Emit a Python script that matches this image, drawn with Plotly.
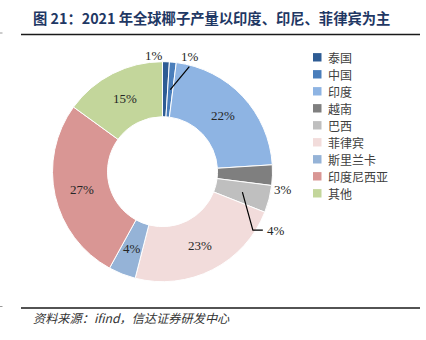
import math
import plotly.graph_objects as go

# 2021 coconut production share by country (%)
countries = ["泰国", "中国", "印度", "越南", "巴西", "菲律宾", "斯里兰卡", "印度尼西亚", "其他"]
shares = [1, 1, 22, 3, 4, 23, 4, 27, 15]
colors = ["#2E5C94", "#4A7EBB", "#8EB4E3", "#7F7F7F", "#BFBFBF",
          "#F2DCDB", "#95B3D7", "#D99694", "#C3D69B"]

title_text = "图 21：2021 年全球椰子产量以印度、印尼、菲律宾为主"
source_text = "资料来源：ifind，信达证券研发中心"

W, H = 426, 340
CX, CY, R = 162.5, 171.7, 110.0
HOLE = 0.5


def px(x):
    return x / W


def py(y):
    return 1 - y / H


# label placement for the small slices (others sit inside the ring)
outside = {
    "泰国": dict(dx=-12, dy=0, anchor="center", leader=None),
    "中国": dict(dx=17, dy=0, anchor="center", leader=[(189.3, 66.7)]),
    "越南": dict(dx=5, dy=14, anchor="center", leader=None),
    "巴西": dict(dx=-10, dy=29.5, anchor="left", leader="elbow"),
}

fig = go.Figure()
fig.add_trace(go.Pie(
    labels=countries,
    values=shares,
    sort=False,
    direction="clockwise",
    rotation=0,
    hole=HOLE,
    marker=dict(colors=colors, line=dict(color="white", width=1)),
    textinfo="none",
    hoverinfo="label+percent",
    showlegend=False,
    domain=dict(x=[px(CX - R), px(CX + R)], y=[py(CY + R), py(CY - R)]),
))

annotations = []
shapes = []
total = sum(shares)
cum = 0.0
label_font = dict(family="Liberation Serif", size=13, color="#262626")
for name, v in zip(countries, shares):
    mid = (cum + v / 2) / total * 2 * math.pi
    cum += v
    s, c = math.sin(mid), math.cos(mid)
    text = f"{round(v / total * 100)}%"
    rmid = (R + HOLE * R) / 2
    if name not in outside:
        x, y = CX + rmid * s, CY - rmid * c
        annotations.append(dict(x=px(x), y=py(y), xref="paper", yref="paper",
                                text=text, showarrow=False, font=label_font,
                                xanchor="center", yanchor="middle"))
        continue
    cfg = outside[name]
    ox, oy = CX + 116 * s, CY - 116 * c
    lx, ly = ox + cfg["dx"], oy + cfg["dy"]
    annotations.append(dict(x=px(lx), y=py(ly), xref="paper", yref="paper",
                            text=text, showarrow=False, font=label_font,
                            xanchor=cfg["anchor"], yanchor="middle"))
    start = (CX + rmid * s, CY - rmid * c)
    if cfg["leader"] == "elbow":
        pts = [start, (lx - 12, ly), (lx - 2, ly)]
    elif cfg["leader"]:
        pts = [start] + cfg["leader"]
    else:
        pts = []
    if pts:
        path = "M " + " L ".join(f"{px(a):.4f},{py(b):.4f}" for a, b in pts)
        shapes.append(dict(type="path", path=path, xref="paper", yref="paper",
                           line=dict(color="#000000", width=1.2)))

# legend drawn as swatches + text
for i, (name, col) in enumerate(zip(countries, colors)):
    yc = 57.3 + 17 * i
    shapes.append(dict(type="rect", xref="paper", yref="paper",
                       x0=px(313), x1=px(321.5), y0=py(yc + 4.2), y1=py(yc - 4.2),
                       fillcolor=col, line=dict(width=0)))
    annotations.append(dict(x=px(326), y=py(yc), xref="paper", yref="paper",
                            text=name, showarrow=False, xanchor="left", yanchor="middle",
                            font=dict(family="Noto Sans CJK SC", size=12, color="#404040")))

# title, rules and source
annotations.append(dict(x=px(31), y=py(17.5), xref="paper", yref="paper",
                        text=f"<b>{title_text}</b>", showarrow=False,
                        xanchor="left", yanchor="middle",
                        font=dict(family="Noto Sans CJK SC", size=14.3, color="#1F3864")))
annotations.append(dict(x=px(31), y=py(318), xref="paper", yref="paper",
                        text=f"<i>{source_text}</i>", showarrow=False,
                        xanchor="left", yanchor="middle",
                        font=dict(family="Noto Sans CJK SC", size=12.2, color="#333333")))
for yl in (34.5, 308):
    shapes.append(dict(type="line", xref="paper", yref="paper",
                       x0=px(21), x1=px(420), y0=py(yl), y1=py(yl),
                       line=dict(color="#1a1a1a", width=1.3)))
    shapes.append(dict(type="line", xref="paper", yref="paper",
                       x0=0, x1=px(2.5), y0=py(yl - 1.5), y1=py(yl - 1.5),
                       line=dict(color="#9a9a9a", width=1)))

fig.update_layout(
    width=W, height=H,
    margin=dict(l=0, r=0, t=0, b=0),
    paper_bgcolor="white",
    plot_bgcolor="white",
    annotations=annotations,
    shapes=shapes,
)

fig.write_html("out.html")
